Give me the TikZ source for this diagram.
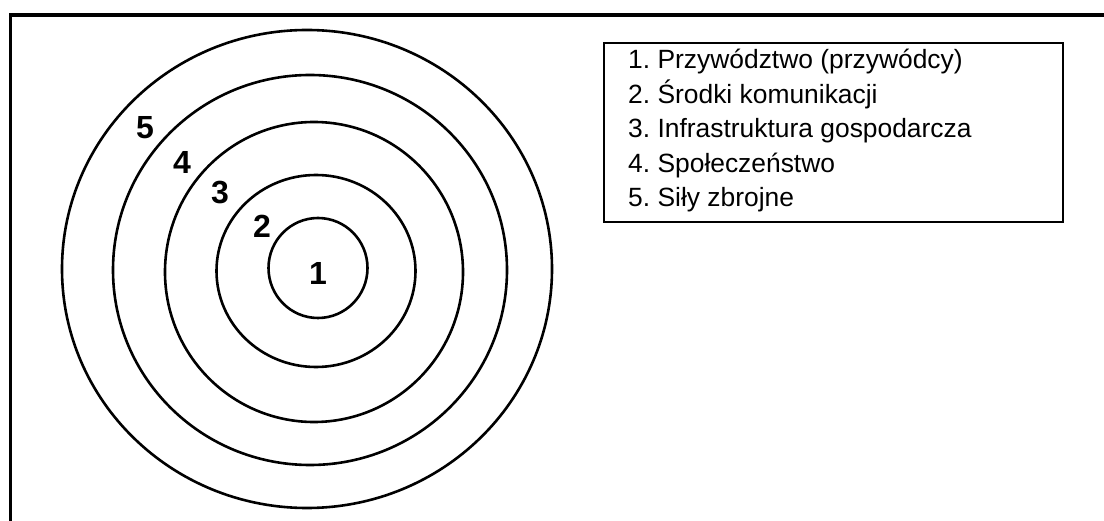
\documentclass[tikz,border=0pt]{standalone}
\usepackage{fontspec}
\setmainfont{Liberation Sans}
\frenchspacing
\usetikzlibrary{shapes.geometric}
\tikzset{
  ring/.style={ellipse, draw, line width=2.6pt, inner sep=0pt, outer sep=0pt},
  ringnum/.style={font=\fontsize{32}{36}\selectfont\bfseries, inner sep=0pt},
  legline/.style={font=\fontsize{26.4}{30}\selectfont, inner sep=0pt, anchor=base west},
  legbox/.style={draw, line width=2.4pt, inner sep=0pt, anchor=north west},
  frameline/.style={line width=3.4pt}
}
\begin{document}
\begin{tikzpicture}[x=1pt,y=-1pt]
\useasboundingbox (0,0) rectangle (1104,521);
% outer frame (top and left edges)
\coordinate (ftr) at (1104,15);
\coordinate (ftl) at (10.7,15);
\coordinate (fbl) at (10.7,521);
\draw[frameline] (ftr) -- (ftl) -- (fbl);
% concentric rings
\node[ring, minimum width=490pt, minimum height=478pt] (ring5) at (307,269) {};
\node[ring, minimum width=394pt, minimum height=390pt] (ring4) at (310,270) {};
\node[ring, minimum width=298pt, minimum height=300pt] (ring3) at (314,272) {};
\node[ring, minimum width=199pt, minimum height=192pt] (ring2) at (316,271) {};
\node[ring, minimum width=99pt, minimum height=100pt] (ring1) at (318,268) {};
% ring numbers
\node[ringnum] (n5) at (145,128) {5};
\node[ringnum] (n4) at (182,162) {4};
\node[ringnum] (n3) at (220,193) {3};
\node[ringnum] (n2) at (262,226) {2};
\node[ringnum] (n1) at (318,273) {1};
% legend
\node[legbox, minimum width=459pt, minimum height=179pt] (legend) at (603,42) {};
\node[legline] (l1) at (628,69) {1. Przywództwo (przywódcy)};
\node[legline] (l2) at (628,103.5) {2. Środki komunikacji};
\node[legline] (l3) at (628,138) {3. Infrastruktura gospodarcza};
\node[legline] (l4) at (628,172.5) {4. Społeczeństwo};
\node[legline] (l5) at (628,207) {5. Siły zbrojne};
\end{tikzpicture}
\end{document}
